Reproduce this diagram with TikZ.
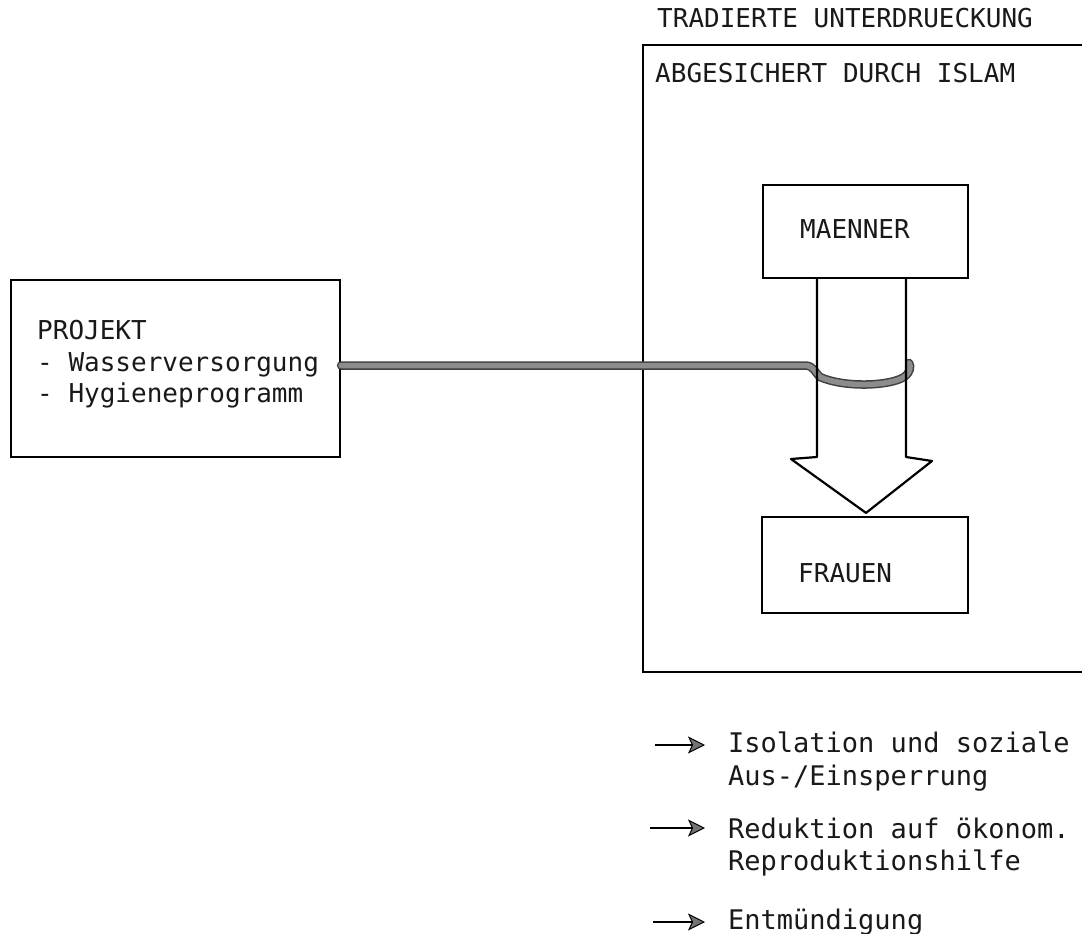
\documentclass[tikz,border=0pt]{standalone}
\usepackage{fontspec}
\setmonofont{DejaVu Sans Mono}
\usetikzlibrary{arrows.meta,calc}
\begin{document}
\begin{tikzpicture}[x=1pt,y=-1pt,
  txt/.style={anchor=base west, inner sep=0pt, text=black!90,
    font=\ttfamily\fontsize{26}{31}\selectfont},
  legtxt/.style={txt, font=\ttfamily\fontsize{27}{32}\selectfont},
  box/.style={draw, line width=2.2pt, inner sep=0pt},
  frame/.style={draw, line width=2.2pt, line join=miter},
  rope/.style={draw=black!75, line width=1.5pt, double=black!45,
    double distance=5.5pt, line cap=round},
  bigarrow/.style={draw, line width=2.2pt, line join=round},
  legarrow/.style={draw, line width=2.4pt,
    -{Stealth[length=17pt, width=17pt, inset=4pt, fill=black!55, line width=1pt]}}]
\useasboundingbox (0,0) rectangle (1082,934);

% open frame on the right: the domain of tradition and religion
\draw[frame] (1090,45) -- (643,45) -- (643,672) -- (1090,672);
\node[txt] (title) at (657,28) {TRADIERTE UNTERDRUECKUNG};
\node[txt] (islam) at (655,82) {ABGESICHERT DURCH ISLAM};

% project box
\node[box, minimum width=329pt, minimum height=177pt] (projekt) at (175.5,368.5) {};
\node[txt] (projt1) at (37,339) {PROJEKT};
\node[txt] (projt2) at (37,371) {- Wasserversorgung};
\node[txt] (projt3) at (37,402) {- Hygieneprogramm};

% men and women
\node[box, minimum width=205pt, minimum height=93pt] (maenner) at (865.5,231.5) {};
\node[txt] (maennertxt) at (800,238) {MAENNER};
\node[box, minimum width=206pt, minimum height=96pt] (frauen) at (865,565) {};
\node[txt] (frauentxt) at (798,582) {FRAUEN};

% rope from the project looped round the arrow shaft
\draw[rope] ($(projekt.east)+(0,-3)$) -- (805,365.5)
  .. controls (814,365.5) and (815,373) .. (820,377)
  .. controls (845,388) and (890,386) .. (904,377)
  .. controls (911,372) and (911,366) .. (909,363);

% broad arrow from men to women
\draw[bigarrow] ($(maenner.south)+(-48.5,0)$) -- (817,457) -- (791,459)
  -- ($(frauen.north)+(1,-3)$) -- (932,461) -- (906,457)
  -- ($(maenner.south)+(40.5,0)$);

% legend
\coordinate (l1s) at (655,745); \coordinate (l1e) at (705,745);
\coordinate (l2s) at (650,828); \coordinate (l2e) at (705,828);
\coordinate (l3s) at (653,922); \coordinate (l3e) at (705,922);
\draw[legarrow] (l1s) -- (l1e);
\draw[legarrow] (l2s) -- (l2e);
\draw[legarrow] (l3s) -- (l3e);
\node[legtxt] (leg1a) at (728,752) {Isolation und soziale};
\node[legtxt] (leg1b) at (728,785) {Aus-/Einsperrung};
\node[legtxt] (leg2a) at (728,838) {Reduktion auf ökonom.};
\node[legtxt] (leg2b) at (728,870) {Reproduktionshilfe};
\node[legtxt] (leg3) at (728,929) {Entmündigung};
\end{tikzpicture}
\end{document}
